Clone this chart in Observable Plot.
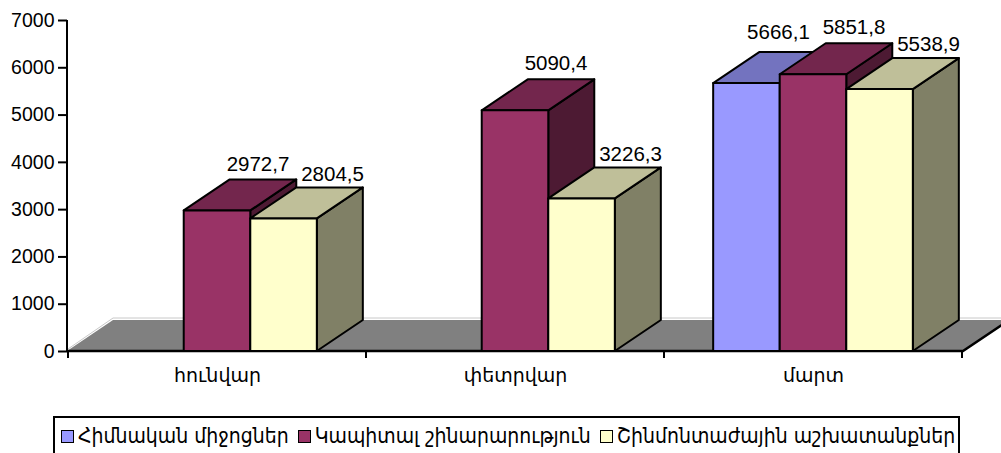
<!DOCTYPE html>
<html><head><meta charset="utf-8">
<script src="https://cdn.jsdelivr.net/npm/d3@7"></script>
<script src="https://cdn.jsdelivr.net/npm/@observablehq/plot@0.6"></script>
<style>
html,body{margin:0;padding:0;background:#fff;}
#wrap{position:relative;width:1001px;height:453px;overflow:hidden;font-family:"Liberation Sans",Arial,sans-serif;}
#legend{position:absolute;left:53px;top:416px;width:907px;height:44px;border:2px solid #000;box-sizing:border-box;display:flex;align-items:flex-start;padding-top:6px;padding-left:6px;font-family:"DejaVu Sans Condensed","DejaVu Sans",sans-serif;font-size:21px;white-space:nowrap;}
.item{display:flex;align-items:center;margin-right:9px;}
.sw{width:11px;height:11px;border:1.5px solid #000;margin-right:4px;}
</style></head><body><div id="wrap"><div id="chart"></div><div id="legend"></div></div>
<script>
const months = ["հունվար", "փետրվար", "մարտ"];
const seriesNames = ["Հիմնական միջոցներ", "Կապիտալ շինարարություն", "Շինմոնտաժային աշխատանքներ"];
const fixedAssets = [null, null, 5666.1];
const capitalConstruction = [2972.7, 5090.4, 5851.8];
const assemblyWorks = [2804.5, 3226.3, 5538.9];
const yTicks = [0, 1000, 2000, 3000, 4000, 5000, 6000, 7000];
const frontColors = ["#9999FF", "#993366", "#FFFFCC"];
const topColors = ["#7373BF", "#73264D", "#BFBF99"];
const sideColors = ["#4D4D80", "#4D1A33", "#808066"];
// label placement style per series (pixels relative to bar back-top)
const labelDx = [32, 41, 49];
const labelDy = [-20, -16, -14];

const seriesValues = [fixedAssets, capitalConstruction, assemblyWorks];
const rows = [];
months.forEach((m, i) => seriesNames.forEach((s, j) => {
  const v = seriesValues[j][i];
  if (v != null) rows.push({month: m, series: s, si: j, value: v});
}));
const fmt = v => d3.format(".1f")(v).replace(".", ",");

const DX = 46, DY = -31;

function bars3d(index, scales, values, dimensions) {
  const x = scales.x, y = scales.y;
  const bw = x.bandwidth();
  const g = d3.create("svg:g");
  const xl = dimensions.marginLeft, xr = dimensions.width - dimensions.marginRight;
  const y0 = y(0);
  // floor
  g.append("path").attr("fill", "#808080")
    .attr("d", `M${xl},${y0}L${xr},${y0}L${xr+DX},${y0+DY}L${xl+DX},${y0+DY}Z`);
  g.append("path").attr("fill", "none").attr("stroke", "#c8c8c8").attr("stroke-width", 1)
    .attr("d", `M${xl+1},${y0-2}L${xl+DX},${y0+DY-2}L${xr+DX+10},${y0+DY-2}`);
  // axes lines
  g.append("path").attr("fill", "none").attr("stroke", "#000").attr("stroke-width", 2.5)
    .attr("d", `M${xl},${y0}L${xr},${y0}L${xr+DX},${y0+DY}`);
  g.append("line").attr("x1", xl).attr("x2", xl).attr("y1", y(7000)).attr("y2", y0)
    .attr("stroke", "#000").attr("stroke-width", 2);
  // category boundary ticks
  const bounds = months.map(m => x(m)).concat([x(months[months.length-1]) + bw]);
  bounds.forEach(b => g.append("line").attr("x1", b).attr("x2", b).attr("y1", y0).attr("y2", y0 + 7)
    .attr("stroke", "#000").attr("stroke-width", 2));
  // bars
  const inner = d3.scaleBand().domain(seriesNames).paddingInner(0).paddingOuter(0);
  const bars = g.append("g").attr("stroke", "#000").attr("stroke-width", 2).attr("stroke-linejoin", "round");
  for (const r of rows) {
    const x0 = x(r.month);
    inner.range([x0 + 0.165 * bw, x0 + 0.835 * bw]);
    const a = inner(r.series), b = a + inner.bandwidth();
    const t = y(r.value);
    bars.append("path").attr("fill", sideColors[r.si])
      .attr("d", `M${b},${y0}L${b+DX},${y0+DY}L${b+DX},${t+DY}L${b},${t}Z`);
    bars.append("path").attr("fill", topColors[r.si])
      .attr("d", `M${a},${t}L${a+DX},${t+DY}L${b+DX},${t+DY}L${b},${t}Z`);
    bars.append("path").attr("fill", frontColors[r.si])
      .attr("d", `M${a},${y0}L${a},${t}L${b},${t}L${b},${y0}Z`);
  }
  // value labels
  const lab = g.append("g").attr("font-family", "Liberation Sans, Arial, sans-serif").attr("font-size", 20.5)
    .attr("text-anchor", "middle").attr("fill", "#000");
  for (const r of rows) {
    const x0 = x(r.month);
    inner.range([x0 + 0.165 * bw, x0 + 0.835 * bw]);
    const c = inner(r.series) + inner.bandwidth() / 2;
    lab.append("text").attr("x", c + labelDx[r.si]).attr("y", y(r.value) + DY + labelDy[r.si]).attr("dy", "0.35em").text(fmt(r.value));
  }
  return g.node();
}

const plot = Plot.plot({
  width: 1001,
  height: 412,
  marginLeft: 67,
  marginRight: 38,
  marginTop: 20,
  marginBottom: 61,
  style: {fontFamily: "Liberation Sans, Arial, sans-serif", background: "#fff", overflow: "visible"},
  x: {type: "band", domain: months, padding: 0, axis: null},
  y: {domain: [0, 7000], axis: null},
  marks: [
    bars3d,
    Plot.axisY(yTicks, {anchor: "left", tickSize: 9, tickPadding: 4, fontSize: 19.5, strokeWidth: 2, label: null, tickFormat: d => String(d), fill: "#000"}),
    Plot.axisX(months, {anchor: "bottom", tickSize: 0, tickPadding: 17, fontSize: 19, fontFamily: "DejaVu Sans", label: null, fill: "#000"})
  ]
});
document.getElementById("chart").appendChild(plot);

const legend = d3.select("#legend");
seriesNames.forEach((s, i) => {
  const it = legend.append("div").attr("class", "item");
  it.append("div").attr("class", "sw").style("background", frontColors[i]);
  it.append("span").text(s);
});
</script></body></html>
